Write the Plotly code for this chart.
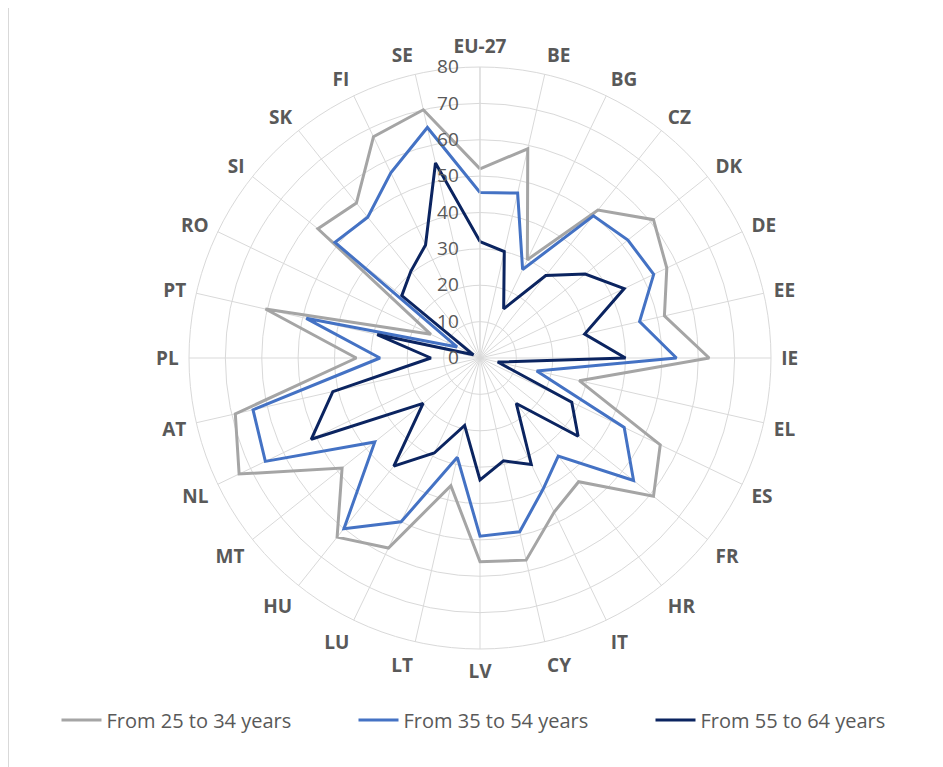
import plotly.graph_objects as go

countries = ["EU-27", "BE", "BG", "CZ", "DK", "DE", "EE", "IE", "EL", "ES", "FR", "HR", "IT", "CY",
             "LV", "LT", "LU", "HU", "MT", "NL", "AT", "PL", "PT", "RO", "SI", "SK", "FI", "SE"]

age_25_34 = [52, 59, 30, 52, 61, 57, 52, 63, 28, 55, 61, 43.5, 47, 57,
             56, 36, 58, 63, 48.5, 73.5, 69, 34, 60.5, 15, 57, 54.5, 67.5, 70]
age_35_54 = [45.5, 46.5, 27, 50, 52, 53, 45, 54, 16, 44, 54, 34.5, 40, 49,
             49, 28, 50, 60, 37, 65.5, 64, 27.5, 49, 7, 51, 49.5, 56.5, 65]
age_55_64 = [32, 30, 15, 29, 37, 44, 29.5, 40, 5, 28, 34.5, 16, 32.5, 29,
             33.5, 19, 29, 38, 20, 51.5, 41.5, 13.5, 29, 2, 27.5, 30.5, 34.5, 55]

series_names = ["From 25 to 34 years", "From 35 to 54 years", "From 55 to 64 years"]
series_values = [age_25_34, age_35_54, age_55_64]
series_colors = ["#A5A5A5", "#4472C4", "#0B2460"]

radial_ticks = [0, 10, 20, 30, 40, 50, 60, 70, 80]

fig = go.Figure()
for name, vals, col in zip(series_names, series_values, series_colors):
    fig.add_trace(go.Scatterpolar(
        r=vals + [vals[0]],
        theta=countries + [countries[0]],
        mode="lines",
        name=name,
        line=dict(color=col, width=3),
    ))

W, H = 943, 767
OFF = 8  # page body margin
cx, cy, R = 480 - OFF, 358 - OFF, 291

fig.update_layout(
    width=W, height=H,
    margin=dict(l=0, r=0, t=0, b=0),
    paper_bgcolor="white",
    plot_bgcolor="white",
    font=dict(family="Open Sans, sans-serif", color="#595959"),
    polar=dict(
        bgcolor="white",
        domain=dict(x=[(cx - R) / W, (cx + R) / W], y=[(H - cy - R) / H, (H - cy + R) / H]),
        angularaxis=dict(
            direction="clockwise",
            rotation=90,
            categoryorder="array",
            categoryarray=countries,
            showline=True,
            linecolor="#D9D9D9",
            linewidth=1,
            gridcolor="#D9D9D9",
            gridwidth=1,
            ticks="outside",
            ticklen=6,
            tickcolor="rgba(0,0,0,0)",
            tickfont=dict(size=19, color="#595959", family="Open Sans, sans-serif", weight="bold"),
        ),
        radialaxis=dict(
            range=[0, 80],
            tickvals=radial_ticks,
            angle=90,
            side="counterclockwise",
            tickangle=90,
            showline=True,
            linecolor="#D9D9D9",
            gridcolor="#D9D9D9",
            gridwidth=1,
            ticks="outside",
            ticklen=14,
            tickcolor="rgba(0,0,0,0)",
            tickfont=dict(size=19, color="#595959"),
        ),
        gridshape="circular",
    ),
    legend=dict(
        orientation="h",
        x=(502 - OFF) / W, xanchor="center",
        y=(H - (720 - OFF)) / H, yanchor="middle",
        font=dict(size=20, color="#595959"),
        entrywidth=242,
        entrywidthmode="pixels",
        itemwidth=40,
    ),
    shapes=[dict(type="line", xref="paper", yref="paper",
                 x0=0.5 / W, x1=0.5 / W, y0=0, y1=1,
                 line=dict(color="#D9D9D9", width=1))],
)

fig.write_html("out.html")
